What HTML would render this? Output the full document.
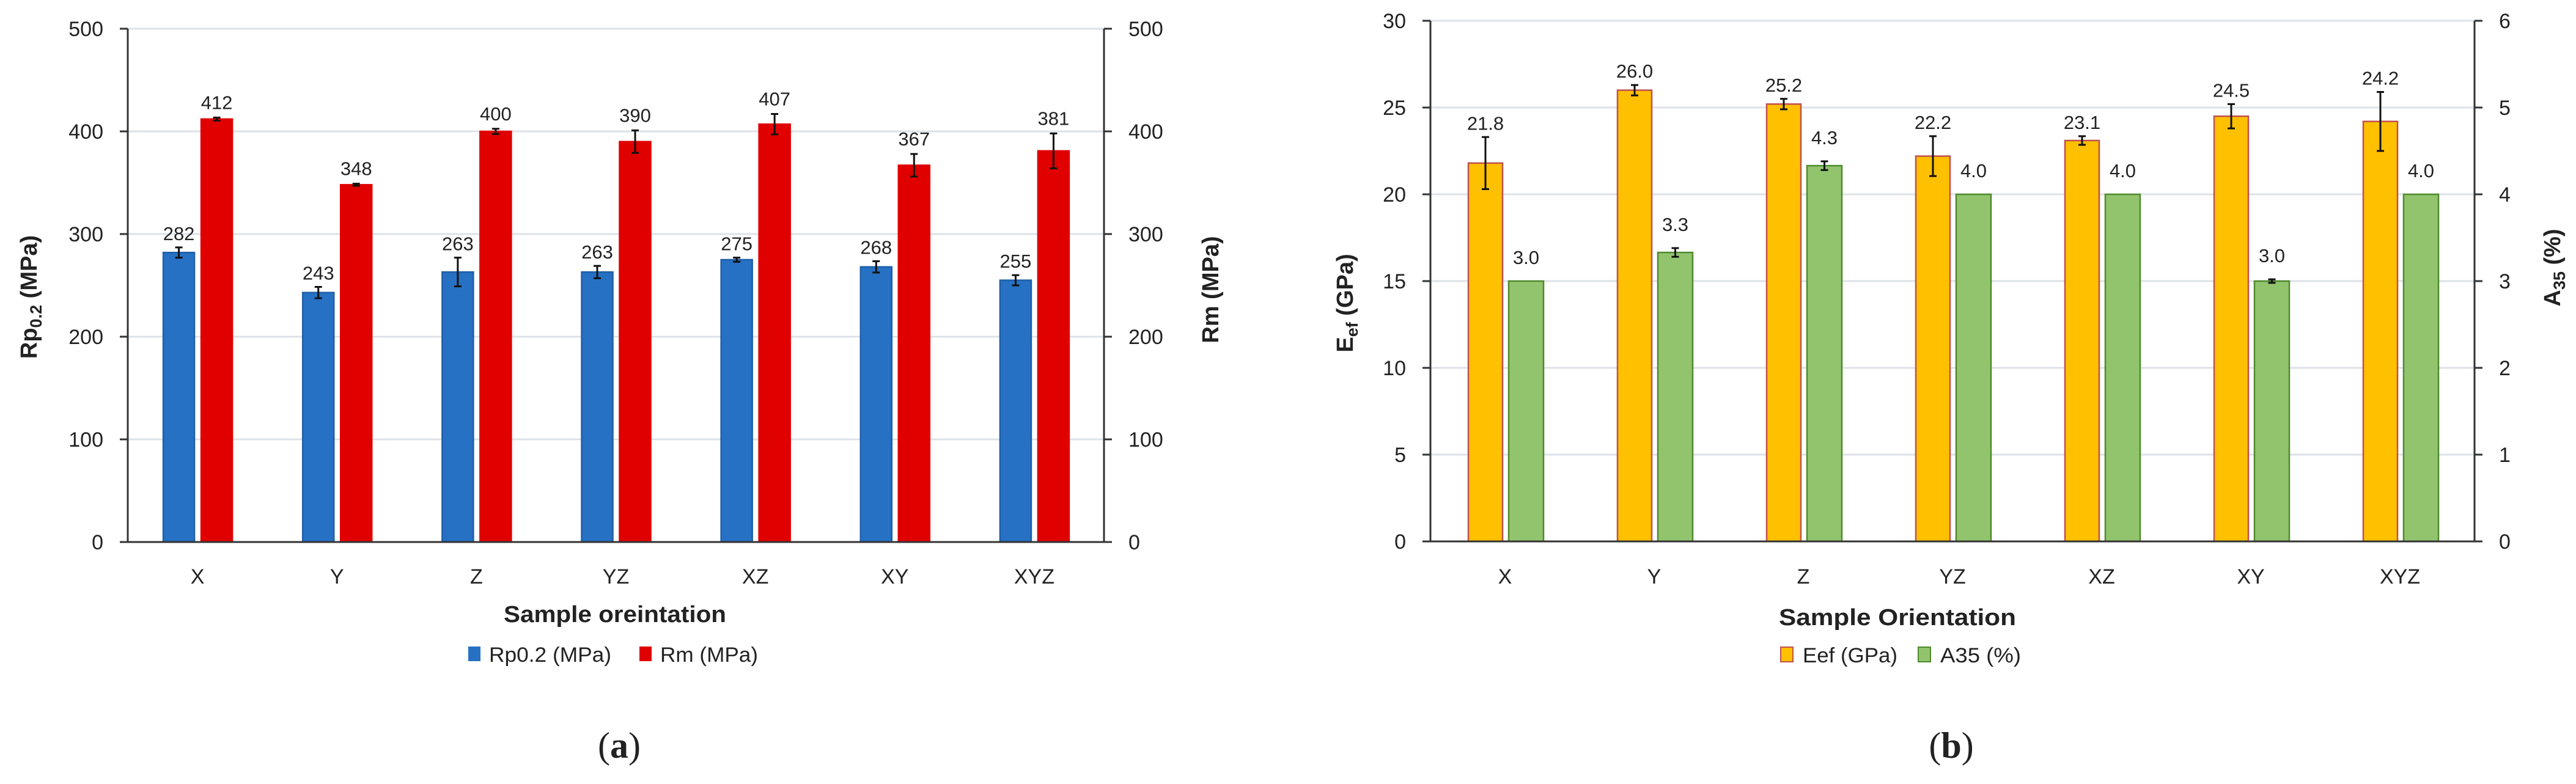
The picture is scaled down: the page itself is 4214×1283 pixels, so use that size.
<!DOCTYPE html>
<html><head><meta charset="utf-8"><style>
html,body{margin:0;padding:0;background:#fff;}
svg{display:block;}
text{font-family:"Liberation Sans",sans-serif;fill:#222;}
</style></head><body>
<svg id="svg" width="4214" height="1283" viewBox="0 0 4214 1283" xmlns="http://www.w3.org/2000/svg"></svg>
<script>
const categories = ["X","Y","Z","YZ","XZ","XY","XYZ"];
const rpValues = [282,243,263,263,275,268,255];
const rpErrors = [5,5.5,14,6,2,5.5,5];
const rmValues = [412,348,400,390,407,367,381];
const rmErrors = [1.5,1,2.5,11,10,11,17];
const leftTicks = [0,100,200,300,400,500];
const eefValues = [21.8,26.0,25.2,22.2,23.1,24.5,24.2];
const eefErrors = [1.5,0.3,0.3,1.15,0.25,0.7,1.7];
const a35Values = [3.0,3.33,4.33,4.0,4.0,3.0,4.0];
const a35Errors = [0,0.05,0.05,0,0,0.02,0];
const eefTicks = [0,5,10,15,20,25,30];
const a35Ticks = [0,1,2,3,4,5,6];

const NS="http://www.w3.org/2000/svg";
const svg=document.getElementById('svg');
function mk(tag,attrs,parent,txt){const e=document.createElementNS(NS,tag);for(const k in attrs)e.setAttribute(k,attrs[k]);if(txt!==undefined)e.textContent=txt;(parent||svg).appendChild(e);return e;}

function drawChart(cfg){
  const g=mk('g',{});
  
  
  const yL=v=>cfg.y0-(v-cfg.lmin)/(cfg.lmax-cfg.lmin)*(cfg.y0-cfg.yTop);
  const yR=v=>cfg.y0-(v-cfg.rmin)/(cfg.rmax-cfg.rmin)*(cfg.y0-cfg.yTop);
  const band=(cfg.xR-cfg.xL)/categories.length;
  const cx=i=>cfg.xL+band*(i+0.5);
  cfg.lTicks.forEach(t=>{
    if(t===cfg.lmin)return;
    const l=mk('line',{x1:cfg.xL,x2:cfg.xR,y1:yL(t),y2:yL(t),stroke:'#dde2e8','stroke-width':3},g);
    
    
  });
  const bars=[[cfg.s1,cfg.e1,yL,cfg.c1,cfg.b1,cfg.o1,cfg.lab1off,cfg.fmt1],[cfg.s2,cfg.e2,yR,cfg.c2,cfg.b2,cfg.o2,cfg.lab2off,cfg.fmt2]];
  bars.forEach((b,si)=>{
    const [vals,errs,sc,fill,stroke,off,labOff,fmt]=b;
    vals.forEach((v,i)=>{
      const x=cx(i)+off[0], w=off[1]-off[0];
      const top=sc(v);
      const r=mk('rect',{x:x,y:top,width:w,height:cfg.y0-top,fill:fill,stroke:stroke,'stroke-width':2.5},g);
      
      
      const ex=x+w/2;
      const et=sc(v+errs[i]), eb=sc(v-errs[i]);
      if(errs[i]>0){
        const e=mk('path',{d:`M${ex} ${et}V${eb}M${ex-6} ${et}H${ex+6}M${ex-6} ${eb}H${ex+6}`,stroke:'#111','stroke-width':3,fill:'none'},g);
        
        
      }
      const t=mk('text',{x:ex,y:Math.min(et,top)-labOff,'text-anchor':'middle','font-size':31},g,fmt(v));
      
      
    });
  });
  const ax=mk('path',{d:`M${cfg.xL} ${cfg.yTop}V${cfg.y0}H${cfg.xR}V${cfg.yTop}`,stroke:'#333','stroke-width':3,fill:'none'},g);
  
  
  cfg.lTicks.forEach(t=>{
    mk('line',{x1:cfg.xL-13,x2:cfg.xL,y1:yL(t),y2:yL(t),stroke:'#333','stroke-width':3},g);
    const tl=mk('text',{x:cfg.xL-40,y:yL(t)+12,'text-anchor':'end','font-size':34},g,String(t));
    
    
  });
  cfg.rTicks.forEach(t=>{
    mk('line',{x1:cfg.xR,x2:cfg.xR+13,y1:yR(t),y2:yR(t),stroke:'#333','stroke-width':3},g);
    const tl=mk('text',{x:cfg.xR+40,y:yR(t)+12,'text-anchor':'start','font-size':34},g,String(t));
    
    
  });
  categories.forEach((c,i)=>{
    const t=mk('text',{x:cx(i),y:cfg.catY,'text-anchor':'middle','font-size':34},g,c);
    
    
  });
  return g;
}

const ch1=drawChart({name:'chart-a',xL:209,xR:1806,yTop:47,y0:887,lmin:0,lmax:500,rmin:0,rmax:500,
  lTicks:leftTicks,rTicks:leftTicks,s1:rpValues,e1:rpErrors,s2:rmValues,e2:rmErrors,
  c1:'#2671c4',b1:'#1f5fa8',c2:'#e00000',b2:'#e00000',o1:[-56,-5],o2:[6,57],lab1off:12,lab2off:14,
  fmt1:v=>String(v),fmt2:v=>String(v),n1:'rp02',n2:'rm',catY:955});
const ch2=drawChart({name:'chart-b',xL:2340,xR:4048,yTop:34,y0:886,lmin:0,lmax:30,rmin:0,rmax:6,
  lTicks:eefTicks,rTicks:a35Ticks,s1:eefValues,e1:eefErrors,s2:a35Values,e2:a35Errors,
  c1:'#ffc000',b1:'#c0504d',c2:'#92c46e',b2:'#4f8a2c',o1:[-60,-4],o2:[6,63],lab1off:12,lab2off:28,
  fmt1:v=>v.toFixed(1),fmt2:v=>v.toFixed(1),n1:'eef',n2:'a35',catY:955});
</script>
<svg style="position:absolute;left:0;top:0" width="4214" height="1283" xmlns="http://www.w3.org/2000/svg">
  <text transform="translate(60,486) rotate(-90)" text-anchor="middle" font-size="38" font-weight="bold">Rp<tspan font-size="27" dy="8">0.2</tspan><tspan dy="-8"> (MPa)</tspan></text>
  <text transform="translate(1993,474) rotate(-90)" text-anchor="middle" font-size="38" font-weight="bold">Rm (MPa)</text>
  <text x="1006" y="1018" text-anchor="middle" font-size="38" font-weight="bold" textLength="364" lengthAdjust="spacingAndGlyphs">Sample oreintation</text>
  <rect x="766" y="1058" width="20" height="24" fill="#2671c4"/>
  <text x="800" y="1083" font-size="34" textLength="200" lengthAdjust="spacingAndGlyphs">Rp0.2 (MPa)</text>
  <rect x="1046" y="1058" width="20" height="24" fill="#e00000"/>
  <text x="1080" y="1083" font-size="34" textLength="160" lengthAdjust="spacingAndGlyphs">Rm (MPa)</text>
  <text x="1013" y="1240" text-anchor="middle" font-size="60" style="font-family:'Liberation Serif',serif">(<tspan font-weight="bold">a</tspan>)</text>

  <text transform="translate(2213,496) rotate(-90)" text-anchor="middle" font-size="38" font-weight="bold">E<tspan font-size="27" dy="8">ef</tspan><tspan dy="-8"> (GPa)</tspan></text>
  <text transform="translate(4188,438) rotate(-90)" text-anchor="middle" font-size="38" font-weight="bold">A<tspan font-size="27" dy="8">35</tspan><tspan dy="-8"> (%)</tspan></text>
  <text x="3104" y="1023" text-anchor="middle" font-size="38" font-weight="bold" textLength="388" lengthAdjust="spacingAndGlyphs">Sample Orientation</text>
  <rect x="2913" y="1059" width="20" height="24" fill="#ffc000" stroke="#c0504d" stroke-width="2"/>
  <text x="2949" y="1084" font-size="34" textLength="155" lengthAdjust="spacingAndGlyphs">Eef (GPa)</text>
  <rect x="3138" y="1059" width="20" height="24" fill="#92c46e" stroke="#4f8a2c" stroke-width="2"/>
  <text x="3174" y="1084" font-size="34" textLength="132" lengthAdjust="spacingAndGlyphs">A35 (%)</text>
  <text x="3192" y="1240" text-anchor="middle" font-size="60" style="font-family:'Liberation Serif',serif">(<tspan font-weight="bold">b</tspan>)</text>
</svg>
</body></html>
